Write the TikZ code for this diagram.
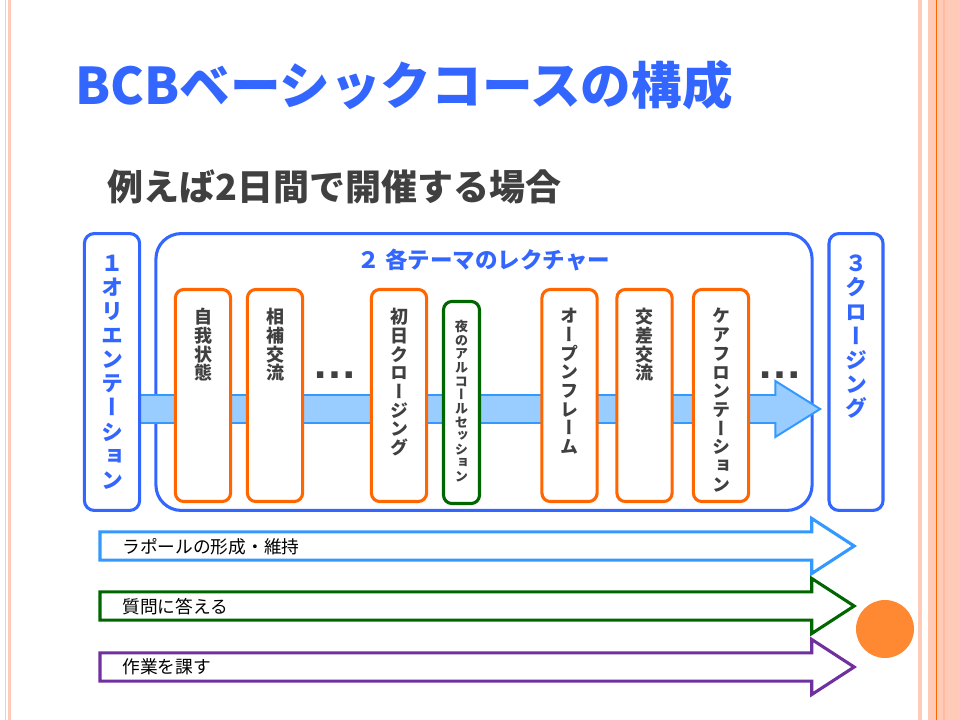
\documentclass[tikz,border=0pt]{standalone}
\usepackage{fontspec}
\setmainfont{Noto Sans CJK JP}
\newfontfamily\jpvert{Noto Sans CJK JP}[RawFeature=+vert]
\newfontfamily\dotsfont{Liberation Sans}
\usetikzlibrary{shapes.arrows, positioning}
\definecolor{bcbblue}{RGB}{51,102,255}
\definecolor{lectorange}{RGB}{255,102,0}
\definecolor{nightgreen}{RGB}{0,102,0}
\definecolor{flowblue}{RGB}{51,153,255}
\definecolor{flowfill}{RGB}{153,204,255}
\definecolor{taskpurple}{RGB}{112,48,160}
\definecolor{ballorange}{RGB}{255,137,51}
\definecolor{inkgray}{RGB}{64,64,64}
\definecolor{salmon}{RGB}{255,202,184}
\definecolor{salmondark}{RGB}{255,188,160}

\begin{document}
\begin{tikzpicture}[x=0.025cm, y=-0.025cm,
  part/.style={draw=bcbblue, line width=2.2pt, rounded corners=7pt,
               minimum width=1.38cm, minimum height=6.92cm, inner sep=0pt},
  lect/.style={draw=lectorange, line width=2.2pt, fill=white, rounded corners=6pt,
               minimum width=1.38cm, minimum height=5.3cm, inner sep=0pt},
  night/.style={lect, draw=nightgreen, minimum width=0.9cm, minimum height=5.05cm},
  plabel/.style={font=\jpvert\bfseries\fontsize{15.6}{17.1}\selectfont, text=bcbblue,
                 align=center, inner sep=0pt, anchor=north},
  vlabel/.style={font=\jpvert\bfseries\fontsize{12.8}{13.3}\selectfont, text=inkgray,
                 align=center, inner sep=0pt, anchor=north},
  flow/.style={single arrow, line width=2.2pt, fill=white, anchor=tip,
               single arrow head extend=0.3375cm, single arrow tip angle=66,
               inner xsep=0pt, inner ysep=0.3125cm, minimum height=18.85cm},
  flowtext/.style={font=\fontsize{12.6}{14}\selectfont, anchor=west, inner sep=0pt},
  more/.style={font=\dotsfont\bfseries\fontsize{32}{32}\selectfont, text=inkgray}
]
\useasboundingbox (0,0) rectangle (960,720);
% slide frame
\fill[salmon] (8,0) rectangle (11,720);
\draw[salmon, line width=0.7pt] (5.5,0) -- (5.5,720);
\fill[salmon] (918,0) rectangle (922,720);
\fill[salmon] (928,0) rectangle (960,720);
\fill[salmondark] (943,0) rectangle (945,720);
\draw[lectorange, line width=0.7pt] (936,0) -- (936,720);

\node[font=\bfseries\fontsize{36}{40}\selectfont, text=bcbblue, anchor=base west, inner sep=0pt]
  (title) at (75,105) {BCBベーシックコースの構成};
\node[font=\bfseries\fontsize{25.6}{30}\selectfont, text=inkgray, anchor=base west, inner sep=0pt]
  (sub) at (107,201) {例えば2日間で開催する場合};

% three parts
\node[part, minimum width=16.4cm, rounded corners=18pt] (lectures) at (484,372) {};
\node[single arrow, draw=flowblue, fill=flowfill, line width=1.4pt, anchor=tip,
      single arrow head extend=0.35cm, single arrow tip angle=64,
      inner xsep=0pt, inner ysep=0.325cm, minimum height=17.55cm] (flow) at (822,409) {};
\node[part, fill=white] (orient) at (112,372) {};
\node[part, fill=white, minimum width=1.35cm] (closing) at (856,372) {};
\node[plabel, anchor=north] (orientT) at (112,255) {１\\オ\\リ\\エ\\ン\\テ\\ー\\シ\\ョ\\ン};
\node[plabel, anchor=north] (closingT) at (856,255) {３\\ク\\ロ\\ー\\ジ\\ン\\グ};
\node[font=\bfseries\fontsize{16}{18}\selectfont, text=bcbblue] (lecturesT) at (484,260)
  {２ 各テーマのレクチャー};

% lectures
\node[lect] (ego) at (203,395.5) {};
\node[lect] (comp) at (275,395.5) {};
\node[lect] (day1) at (399,395.5) {};
\node[night] (night) at (461.5,402.5) {};
\node[lect] (open) at (569.5,395.5) {};
\node[lect] (cross) at (644.5,395.5) {};
\node[lect] (care) at (721,395.5) {};
\node[vlabel] at (ego.north |- 0,308) {自\\我\\状\\態};
\node[vlabel] at (comp.north |- 0,308) {相\\補\\交\\流};
\node[vlabel] at (day1.north |- 0,308) {初\\日\\ク\\ロ\\ー\\ジ\\ン\\グ};
\node[vlabel, font=\jpvert\bfseries\fontsize{9.4}{9.7}\selectfont] at (night.north |- 0,320)
  {夜\\の\\ア\\ル\\コ\\ー\\ル\\セ\\ッ\\シ\\ョ\\ン};
\node[vlabel] at (open.north |- 0,308) {オ\\ー\\プ\\ン\\フ\\レ\\ー\\ム};
\node[vlabel] at (cross.north |- 0,308) {交\\差\\交\\流};
\node[vlabel] at (care.north |- 0,308) {ケ\\ア\\フ\\ロ\\ン\\テ\\ー\\シ\\ョ\\ン};
\node[more] (moreA) at (335,375) {…};
\node[more] (moreB) at (780,375) {…};

% throughout
\node[flow, draw=flowblue] (rapport) at (857,546) {};
\node[flow, draw=nightgreen] (answer) at (857,606) {};
\node[flow, draw=taskpurple] (task) at (857,667) {};
\node[flowtext] at (122,547) {ラポールの形成・維持};
\node[flowtext] at (122,607) {質問に答える};
\node[flowtext] at (122,667) {作業を課す};
\node[circle, fill=ballorange, minimum size=1.45cm, inner sep=0pt] (ball) at (885,629) {};
\end{tikzpicture}
\end{document}
